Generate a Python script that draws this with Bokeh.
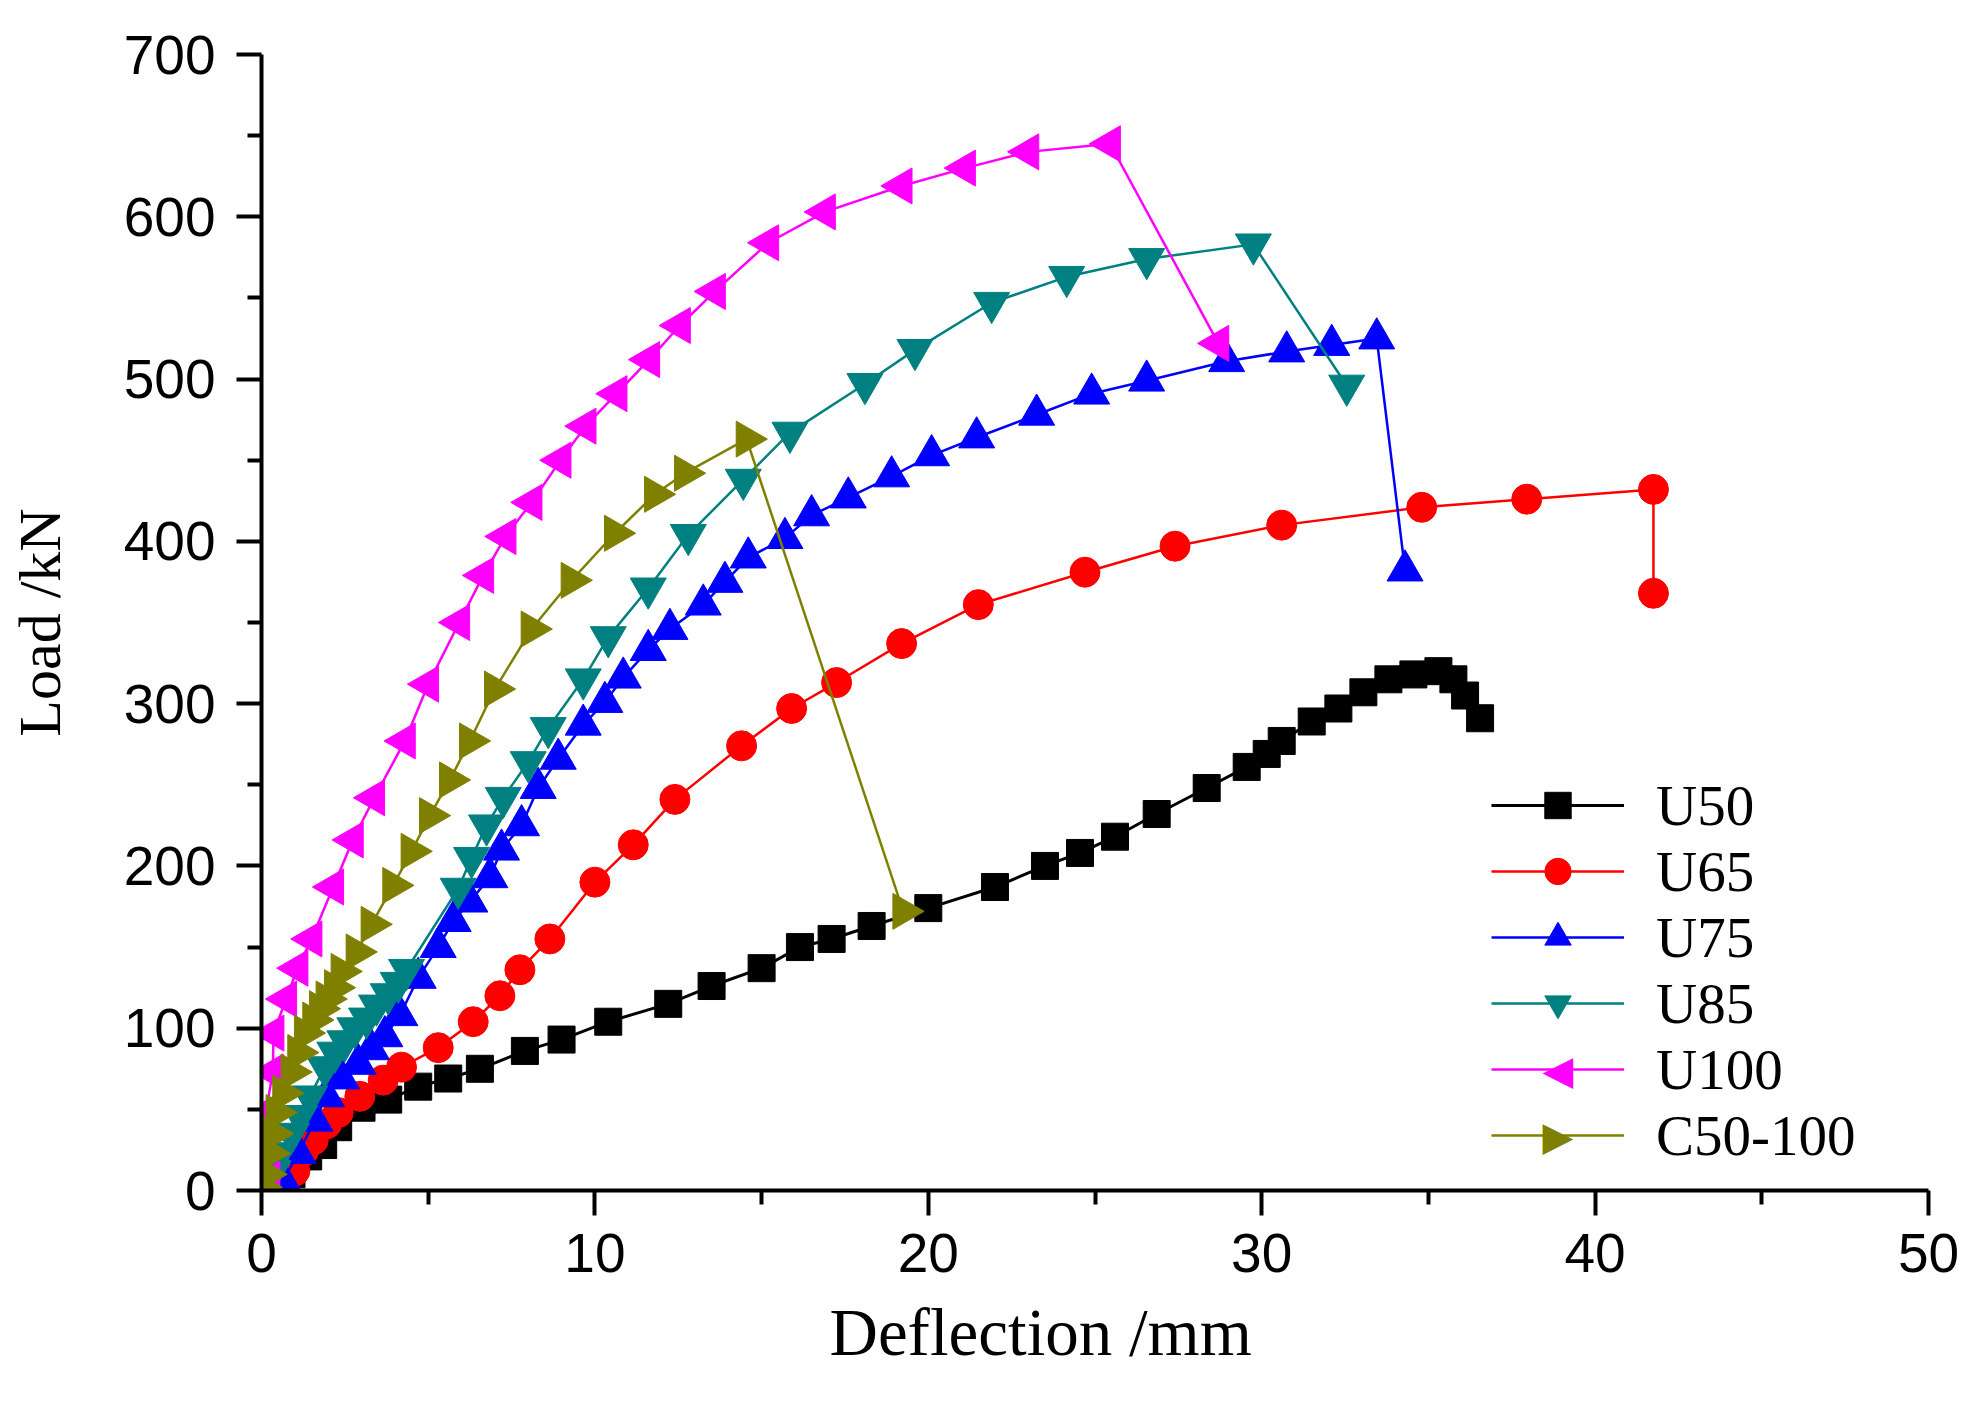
import math
from bokeh.plotting import figure
from bokeh.models import Legend, LegendItem, FixedTicker, Label, Title
from bokeh.embed import file_html
from bokeh.resources import INLINE

# ---- data ----
u50_x = [0, 0.45, 0.9, 1.4, 1.85, 2.3, 3.0, 3.8, 4.7, 5.6, 6.55, 7.9, 9.0, 10.4, 12.2, 13.5, 15.0,
         16.15, 17.1, 18.3, 20.0, 22.0, 23.5, 24.55, 25.6, 26.85, 28.35, 29.55, 30.15, 30.6, 31.5,
         32.3, 33.05, 33.8, 34.55, 35.3, 35.75, 36.1, 36.55]
u50_y = [0, 4, 10, 21, 28, 39, 51, 56, 64, 69, 75, 86, 93, 104, 115, 126, 137,
         150, 155, 163, 174, 187, 200, 208, 218, 232, 248, 261, 269, 277, 289,
         297, 307, 315, 318, 320, 315, 305, 291]

u65_x = [0.6, 1.0, 1.25, 1.55, 1.95, 2.3, 2.95, 3.65, 4.2, 5.3, 6.35, 7.15, 7.75, 8.65, 10.0, 11.15,
         12.4, 14.4, 15.9, 17.25, 19.2, 21.5, 24.7, 27.4, 30.6, 34.8, 37.95, 41.75, 41.75]
u65_y = [2, 12, 24, 31, 41, 48, 58, 68, 76, 88, 104, 120, 136, 155, 190, 213,
         241, 274, 297, 313, 337, 361, 381, 397, 410, 421, 426, 432, 368]

u75_x = [0.65, 1.1, 1.6, 1.95, 2.4, 2.9, 3.3, 3.7, 4.15, 4.7, 5.3, 5.75, 6.25, 6.85, 7.2, 7.8, 8.3,
         8.9, 9.65, 10.3, 10.85, 11.6, 12.25, 13.25, 13.9, 14.6, 15.7, 16.5, 17.6, 18.9, 20.1,
         21.45, 23.25, 24.9, 26.55, 28.95, 30.75, 32.1, 33.45, 34.3]
u75_y = [6, 23, 43, 58, 69, 78, 87, 95, 108, 131, 150, 166, 178, 193, 210, 225, 248,
         266, 287, 301, 316, 333, 346, 361, 375, 390, 402, 416, 427, 440, 453,
         464, 478, 491, 499, 511, 517, 521, 525, 382]

u85_x = [0.35, 0.55, 0.9, 1.15, 1.45, 1.9, 2.2, 2.5, 2.8, 3.15, 3.45, 3.8, 4.1, 4.35, 5.9, 6.3,
         6.75, 7.25, 8.0, 8.6, 9.65, 10.4, 11.6, 12.8, 14.45, 15.85, 18.1, 19.6, 21.9, 24.15,
         26.55, 29.75, 32.55]
u85_y = [12, 23, 35, 46, 58, 76, 85, 92, 100, 106, 114, 121, 128, 136, 186, 205,
         225, 242, 264, 285, 315, 341, 371, 404, 438, 467, 497, 518, 547, 563,
         574, 583, 496]

u100_x = [0.24, 0.13, 0.34, 0.36, 0.74, 1.08, 1.5, 2.15, 2.74, 3.38, 4.3, 5.0, 5.93, 6.65, 7.32,
          8.1, 8.97, 9.72, 10.65, 11.63, 12.55, 13.6, 15.2, 16.9, 19.2, 21.1, 23.0, 25.45, 28.7]
u100_y = [7, 48, 73, 97, 118, 137, 155, 187, 216, 242, 277, 312, 350, 379, 403,
          424, 450, 471, 491, 512, 533, 554, 584, 603, 619, 630, 640, 645, 522]

c50_x = [0, 0.15, 0.25, 0.35, 0.45, 0.65, 0.9, 1.1, 1.3, 1.55, 1.75, 1.95, 2.2, 2.4, 2.85, 3.3,
         3.95, 4.5, 5.05, 5.65, 6.25, 7.0, 8.1, 9.3, 10.6, 11.8, 12.7, 14.55, 19.25]
c50_y = [2, 10, 23, 35, 48, 60, 73, 85, 97, 105, 112, 118, 125, 135, 147, 164,
         188, 209, 231, 253, 277, 309, 346, 376, 405, 429, 442, 463, 172]

x_ticks = [0, 10, 20, 30, 40, 50]
x_minor = [5, 15, 25, 35, 45]
y_ticks = [0, 100, 200, 300, 400, 500, 600, 700]
y_minor = [50, 150, 250, 350, 450, 550, 650]

x_title = "Deflection /mm"
y_title = "Load /kN"

# name, x, y, colour, marker, angle, size, line width, legend symbol (text) if rotated
series = [
    ("U50", u50_x, u50_y, "#000000", "square", 0.0, 27, 3, None),
    ("U65", u65_x, u65_y, "#FF0000", "circle", 0.0, 30, 2.5, None),
    ("U75", u75_x, u75_y, "#0000FF", "triangle", 0.0, 36, 2.5, None),
    ("U85", u85_x, u85_y, "#008080", "inverted_triangle", 0.0, 36, 2.5, None),
    ("U100", u100_x, u100_y, "#FF00FF", "triangle", math.pi / 2, 36, 2.5, "\u25C0"),
    ("C50-100", c50_x, c50_y, "#808000", "triangle", -math.pi / 2, 36, 2.5, "\u25B6"),
]

p = figure(width=1970, height=1392, x_range=(0, 50), y_range=(0, 700),
           output_backend="svg", toolbar_location=None,
           min_border_left=261, min_border_right=42, min_border_top=54, min_border_bottom=202)
p.outline_line_color = None
p.grid.visible = False
p.background_fill_color = "white"
p.border_fill_color = "white"

# legend geometry (screen px, relative to the frame's bottom-left corner)
leg_x, leg_y = 1230, 22
row_h, glyph_w = 66, 133

items = []
n = len(series)
for i, (name, xs, ys, col, mk, ang, sz, lw, sym) in enumerate(series):
    lr = p.line(xs, ys, line_color=col, line_width=lw)
    sr = p.scatter(xs, ys, marker=mk, angle=ang, size=sz, fill_color=col, line_color=col, line_width=1)
    if sym is None:
        items.append(LegendItem(label=name, renderers=[lr, sr]))
    else:
        items.append(LegendItem(label=name, renderers=[lr]))
        cy = leg_y + row_h * (n - i - 0.5)
        p.add_layout(Label(x=leg_x + glyph_w / 2, y=cy, x_units="screen", y_units="screen",
                           text=sym, text_align="center", text_baseline="middle",
                           text_font="DejaVu Sans", text_font_size="40px", text_color=col))

for ax in (p.xaxis[0], p.yaxis[0]):
    ax.axis_line_width = 4
    ax.major_tick_line_width = 4
    ax.minor_tick_line_width = 4
    ax.major_tick_out = 25
    ax.major_tick_in = 0
    ax.minor_tick_out = 14
    ax.minor_tick_in = 0
    ax.major_label_text_font = "Liberation Sans"
    ax.major_label_text_font_size = "55px"
    ax.major_label_text_color = "black"
    ax.axis_label_text_font = "Liberation Serif"
    ax.axis_label_text_font_style = "normal"
    ax.axis_label_text_color = "black"

p.xaxis[0].ticker = FixedTicker(ticks=x_ticks, minor_ticks=x_minor)
p.yaxis[0].ticker = FixedTicker(ticks=y_ticks, minor_ticks=y_minor)
p.yaxis[0].axis_label = y_title
p.yaxis[0].axis_label_text_font_size = "60px"
p.xaxis[0].major_label_standoff = 18
p.yaxis[0].major_label_standoff = 21
p.yaxis[0].axis_label_standoff = 48

# x-axis title: in the reference it sits slightly left of the frame centre
xt = Title(text=x_title, align="left", offset=568, standoff=40, vertical_align="top",
           text_font="Liberation Serif", text_font_size="67px", text_font_style="normal",
           text_line_height=0.75, text_color="black")
p.add_layout(xt, "below")

legend = Legend(items=items, location=(leg_x, leg_y))
legend.border_line_color = None
legend.background_fill_alpha = 0
legend.padding = 0
legend.margin = 0
legend.spacing = 0
legend.glyph_width = glyph_w
legend.glyph_height = row_h
legend.label_height = row_h
legend.label_standoff = 32
legend.label_text_font = "Liberation Serif"
legend.label_text_font_size = "57px"
legend.label_text_color = "black"
p.add_layout(legend)

open("out.html", "w").write(file_html(p, INLINE))
